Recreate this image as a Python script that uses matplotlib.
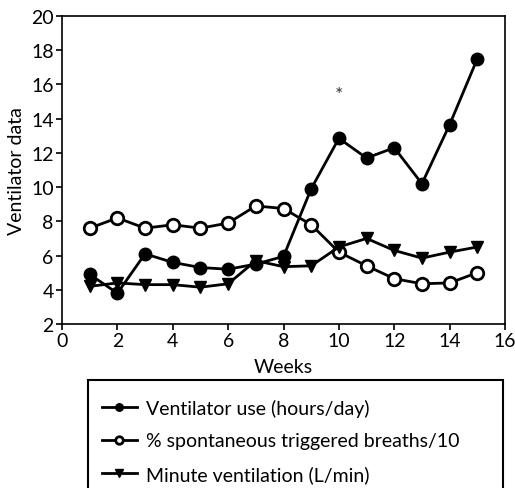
import matplotlib.pyplot as plt
from matplotlib.patches import Rectangle

weeks = list(range(1, 16))
vent_use = [4.9, 3.8, 6.1, 5.6, 5.3, 5.2, 5.5, 5.95, 9.9, 12.85, 11.7, 12.3, 10.2, 13.65, 17.5]
spont_breaths = [7.6, 8.2, 7.6, 7.8, 7.6, 7.9, 8.9, 8.75, 7.8, 6.2, 5.4, 4.65, 4.35, 4.4, 5.0]
minute_vent = [4.2, 4.4, 4.3, 4.3, 4.15, 4.35, 5.7, 5.35, 5.4, 6.5, 7.0, 6.3, 5.85, 6.2, 6.5]
labels = ['Ventilator use (hours/day)', '% spontaneous triggered breaths/10', 'Minute ventilation (L/min)']

plt.rcParams['font.family'] = ['Lato', 'DejaVu Sans']

fig = plt.figure(figsize=(5.15, 4.89), dpi=100)
ax = fig.add_axes([62/515, 1 - 325/489, 443/515, 308/489])

h1, = ax.plot(weeks, vent_use, '-o', color='black', lw=2, ms=9, mfc='black')
h2, = ax.plot(weeks, spont_breaths, '-o', color='black', lw=2, ms=9, mfc='white', mew=2)
h3, = ax.plot(weeks, minute_vent, '-v', color='black', lw=2, ms=9, mfc='black')
ax.text(10, 15.4, '*', ha='center', va='center', fontsize=14, color='#333333')

ax.set_xlim(0, 16)
ax.set_ylim(2, 20)
ax.set_xticks(range(0, 17, 2))
ax.set_yticks(range(2, 21, 2))
ax.tick_params(labelsize=14, direction='out', length=4, width=1.2, pad=2)
ax.set_xlabel('Weeks', fontsize=14, labelpad=6)
ax.set_ylabel('Ventilator data', fontsize=14, labelpad=4)
for s in ax.spines.values():
    s.set_linewidth(1.2)

# legend box runs off the bottom edge
fig.patches.append(Rectangle((88/515, -0.05), 415/515, 1 - 381/489 + 0.05,
                             transform=fig.transFigure, fill=False, lw=1.5, ec='black'))
fig.legend([h1, h2, h3], labels, loc='upper left', bbox_to_anchor=(94/515, 1 - 392/489),
           frameon=False, fontsize=14, handlelength=1.8, handletextpad=0.5,
           labelspacing=0.8, markerscale=0.6, borderaxespad=0)

fig.savefig('out.png', dpi=100)
